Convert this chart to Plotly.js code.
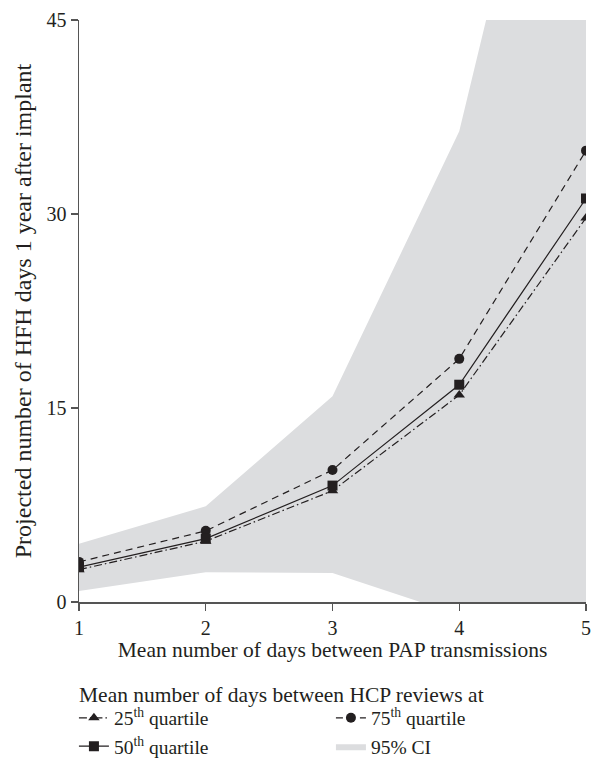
<!DOCTYPE html>
<html>
<head>
<meta charset="utf-8">
<script src="https://cdn.plot.ly/plotly-3.0.1.min.js"></script>
<style>html,body{margin:0;padding:0;background:#fff;}#chart{width:595px;height:758px;}</style>
</head>
<body>
<div id="chart"></div>
<script>
// Mean number of days between PAP transmissions
const days = [1, 2, 3, 4, 5];
// Projected HFH days by HCP review quartile
const q25 = [2.5, 4.7, 8.6, 16.0, 29.7];
const q50 = [2.7, 4.9, 9.0, 16.8, 31.2];
const q75 = [3.1, 5.5, 10.2, 18.8, 34.9];
// 95% confidence interval bounds
const ciLower = [0.85, 2.3, 2.25, -1.0, -6.0];
const ciUpper = [4.5, 7.4, 15.9, 36.4, 77.0];
const xTicks = [1, 2, 3, 4, 5];
const yTicks = [0, 15, 30, 45];
const legendHeading = 'Mean number of days between HCP reviews at';

const ink = '#231f20';
const band = '#dcdddf';
const fontFam = '"Liberation Serif", "DejaVu Serif", serif';

const traces = [
  {x: days, y: ciLower, mode: 'lines', line: {width: 0, color: band}, showlegend: false, hoverinfo: 'skip'},
  {x: days, y: ciUpper, mode: 'lines', fill: 'tonexty', fillcolor: band, line: {width: 0, color: band},
   name: '95% CI', legendrank: 4},
  {x: days, y: q25, mode: 'lines+markers', name: '25<sup>th</sup> quartile', legendrank: 1,
   line: {color: ink, width: 1.2, dash: '8px,3px,1.5px,3px'}, marker: {symbol: 'triangle-up', size: 10, color: ink}},
  {x: days, y: q75, mode: 'lines+markers', name: '75<sup>th</sup> quartile', legendrank: 2,
   line: {color: ink, width: 1.2, dash: '7px,5px'}, marker: {symbol: 'circle', size: 10, color: ink}},
  {x: days, y: q50, mode: 'lines+markers', name: '50<sup>th</sup> quartile', legendrank: 3,
   line: {color: ink, width: 1.2}, marker: {symbol: 'square', size: 10, color: ink}}
];

const layout = {
  width: 595, height: 758,
  margin: {l: 79, r: 9, t: 20, b: 156, autoexpand: false},
  paper_bgcolor: '#fff', plot_bgcolor: '#fff',
  font: {family: fontFam, size: 20, color: ink},
  showlegend: true,
  xaxis: {
    range: [1, 5], tickvals: xTicks, ticktext: xTicks.map(String),
    showgrid: false, zeroline: false, showline: true, linecolor: '#555', linewidth: 1.5,
    ticks: 'outside', ticklen: 7, tickcolor: '#555', tickwidth: 1.2,
    tickfont: {family: fontFam, size: 20, color: ink},
    title: {text: 'Mean number of days between PAP transmissions', font: {family: fontFam, size: 21.5, color: ink}, standoff: 2},
    automargin: false, fixedrange: true
  },
  yaxis: {
    range: [0, 45], tickvals: yTicks, ticktext: yTicks.map(String),
    showgrid: false, zeroline: false, showline: true, linecolor: '#555', linewidth: 1.5,
    ticks: 'outside', ticklen: 7, tickcolor: '#555', tickwidth: 1.2,
    tickfont: {family: fontFam, size: 20, color: ink},
    title: {text: 'Projected number of HFH days 1 year after implant', font: {family: fontFam, size: 24, color: ink}, standoff: 8},
    automargin: false, fixedrange: true
  },
  legend: {
    orientation: 'h', x: -0.01, xanchor: 'left', y: -0.166, yanchor: 'top',
    entrywidth: 212, entrywidthmode: 'pixels',
    traceorder: 'normal',
    font: {family: fontFam, size: 19.5, color: ink},
    bgcolor: 'rgba(0,0,0,0)', itemwidth: 30, tracegroupgap: 0
  },
  annotations: [{
    text: legendHeading, xref: 'paper', yref: 'paper', x: -0.004, y: -0.159,
    xanchor: 'left', yanchor: 'middle', showarrow: false,
    font: {family: fontFam, size: 21.5, color: ink}
  }]
};

Plotly.newPlot('chart', traces, layout, {displayModeBar: false, staticPlot: true});
</script>
</body>
</html>
